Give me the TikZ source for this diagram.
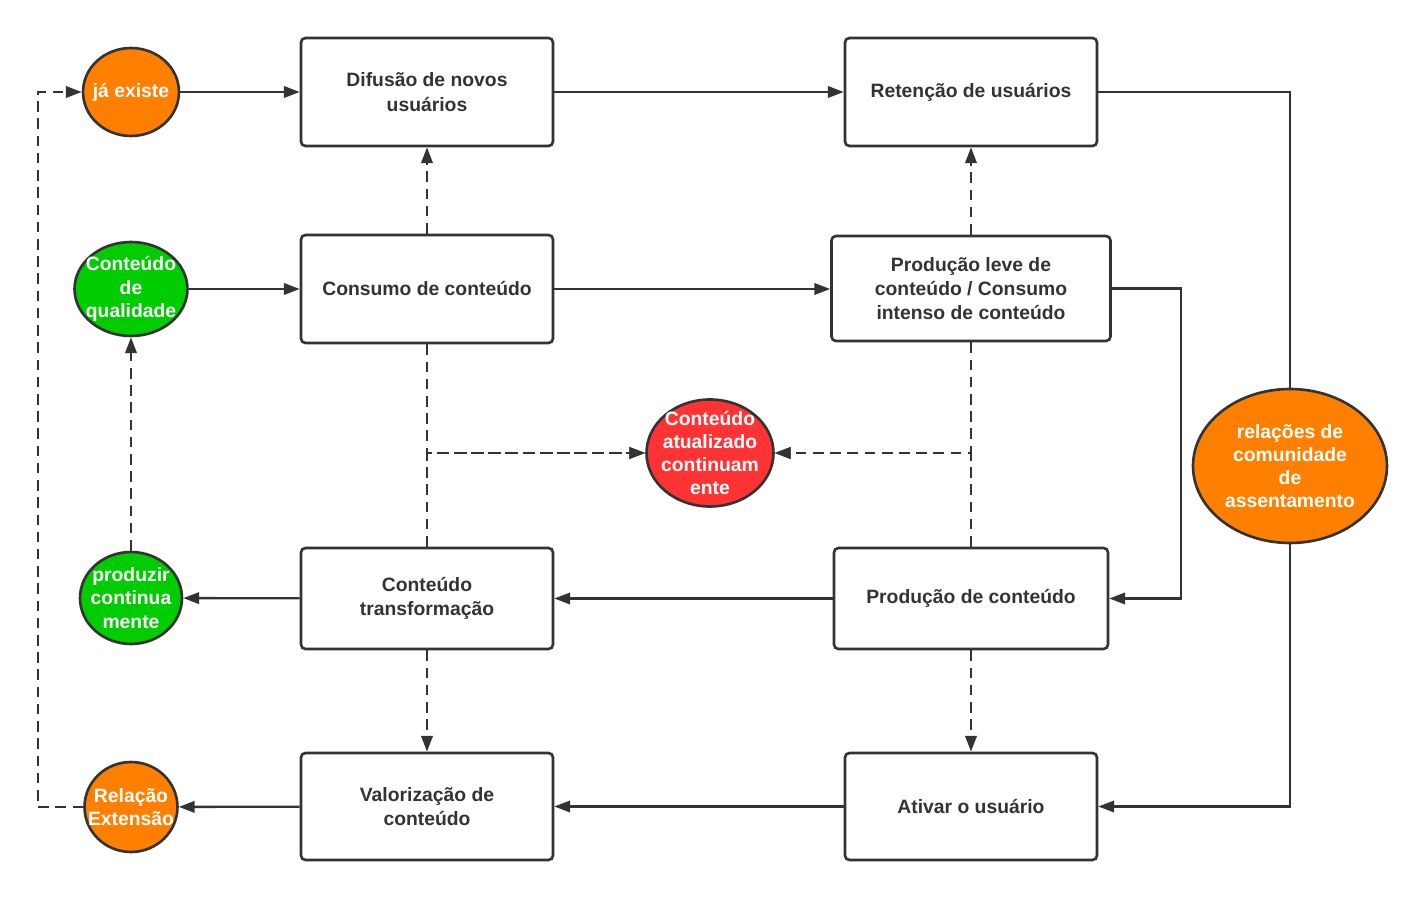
\documentclass[tikz,border=0pt]{standalone}
\usepackage{fontspec}
\setmainfont{Liberation Sans}
\usetikzlibrary{arrows.meta, shapes.geometric}
\definecolor{EdgeGray}{HTML}{333333}
\definecolor{FlowOrange}{HTML}{FF8000}
\definecolor{FlowGreen}{HTML}{00CC00}
\definecolor{FlowRed}{HTML}{FF3333}

\tikzset{
  stagebox/.style={draw=EdgeGray, line width=1.5pt, rounded corners=2.5pt, fill=white, align=center, text=EdgeGray,
    font=\fontsize{11}{13.8}\selectfont\bfseries, minimum width=5.04cm, minimum height=2.16cm, inner sep=0pt},
  bubble/.style={ellipse, draw=EdgeGray, line width=1.5pt, inner sep=0pt},
  bubtext/.style={text=white, align=center, font=\fontsize{11}{13.2}\selectfont\bfseries},
  flow/.style={draw=EdgeGray, line width=1.3pt, -{Triangle[length=9pt, width=6.5pt]}},
  link/.style={draw=EdgeGray, line width=1.3pt},
  dashlink/.style={dash pattern=on 6pt off 3.8pt}
}

\begin{document}
\begin{tikzpicture}[x=0.02cm, y=-0.02cm]
    \useasboundingbox (0,0) rectangle (1428,898);

    % Stage boxes
    \node[stagebox] (difusao) at (427,92) {Difusão de novos\\usuários};
    \node[stagebox] (retencao) at (971,92) {Retenção de usuários};
    \node[stagebox] (consumo) at (427,289) {Consumo de conteúdo};
    \node[stagebox, minimum width=5.58cm, minimum height=2.1cm] (leve) at (971,288.5) {Produção leve de\\conteúdo / Consumo\\intenso de conteúdo};
    \node[stagebox, minimum height=2.02cm] (transf) at (427,598.5) {Conteúdo\\transformação};
    \node[stagebox, minimum width=5.48cm, minimum height=2.02cm] (producao) at (971,598.5) {Produção de conteúdo};
    \node[stagebox, minimum height=2.14cm] (valor) at (427,806.5) {Valorização de\\conteúdo};
    \node[stagebox, minimum height=2.14cm] (ativar) at (971,806.5) {Ativar o usuário};

    % Side bubbles
    \node[bubble, fill=FlowOrange, minimum width=1.92cm, minimum height=1.76cm, label={[bubtext]center:já existe}] (existe) at (131,92) {};
    \node[bubble, fill=FlowGreen, minimum width=2.26cm, minimum height=1.88cm, label={[bubtext]center:Conteúdo\\de\\qualidade}] (qualid) at (131,289) {};
    \node[bubble, fill=FlowGreen, minimum width=2.04cm, minimum height=1.84cm, label={[bubtext]center:produzir\\continua\\mente}] (produzir) at (131,598) {};
    \node[bubble, fill=FlowOrange, minimum width=1.86cm, minimum height=1.8cm, label={[bubtext]center:Relação\\Extensão}] (relacao) at (131,807) {};
    \node[bubble, fill=FlowRed, minimum width=2.54cm, minimum height=2.14cm, label={[bubtext]center:Conteúdo\\atualizado\\continuam\\ente}] (atual) at (710,453) {};
    \node[bubble, fill=FlowOrange, minimum width=3.88cm, minimum height=3.08cm, label={[bubtext]center:relações de\\comunidade\\de\\assentamento}] (comun) at (1290,466) {};

    % Bend points
    \coordinate (bendR) at (1181,288.5);
    \coordinate (loopL) at (38,807);

    % Solid flows
    \draw[flow] (existe) -- (difusao);
    \draw[flow] (difusao) -- (retencao);
    \draw[flow] (qualid) -- (consumo);
    \draw[flow] (consumo.east) -- (consumo.east -| leve.west);
    \draw[flow] (leve.east) -- (bendR) |- (producao.east);
    \draw[flow] (producao) -- (transf);
    \draw[flow] (transf) -- (produzir);
    \draw[flow] (ativar) -- (valor);
    \draw[flow] (valor) -- (relacao);
    \draw[link] (retencao.east) -| (comun.north);
    \draw[flow] (comun.south) |- (ativar.east);

    % Dashed flows
    \draw[flow, dashlink] (consumo) -- (difusao);
    \draw[flow, dashlink] (leve) -- (retencao);
    \draw[flow, dashlink] (produzir) -- (qualid);
    \draw[flow, dashlink] (transf) -- (valor);
    \draw[flow, dashlink] (producao) -- (ativar);
    \draw[flow, dashlink] (relacao.west) -- (loopL) |- (existe.west);
    \draw[flow, dashlink] (consumo.south) |- (atual.west);
    \draw[flow, dashlink] (transf.north) |- (atual.west);
    \draw[flow, dashlink] (leve.south) |- (atual.east);
    \draw[flow, dashlink] (producao.north) |- (atual.east);
\end{tikzpicture}
\end{document}
